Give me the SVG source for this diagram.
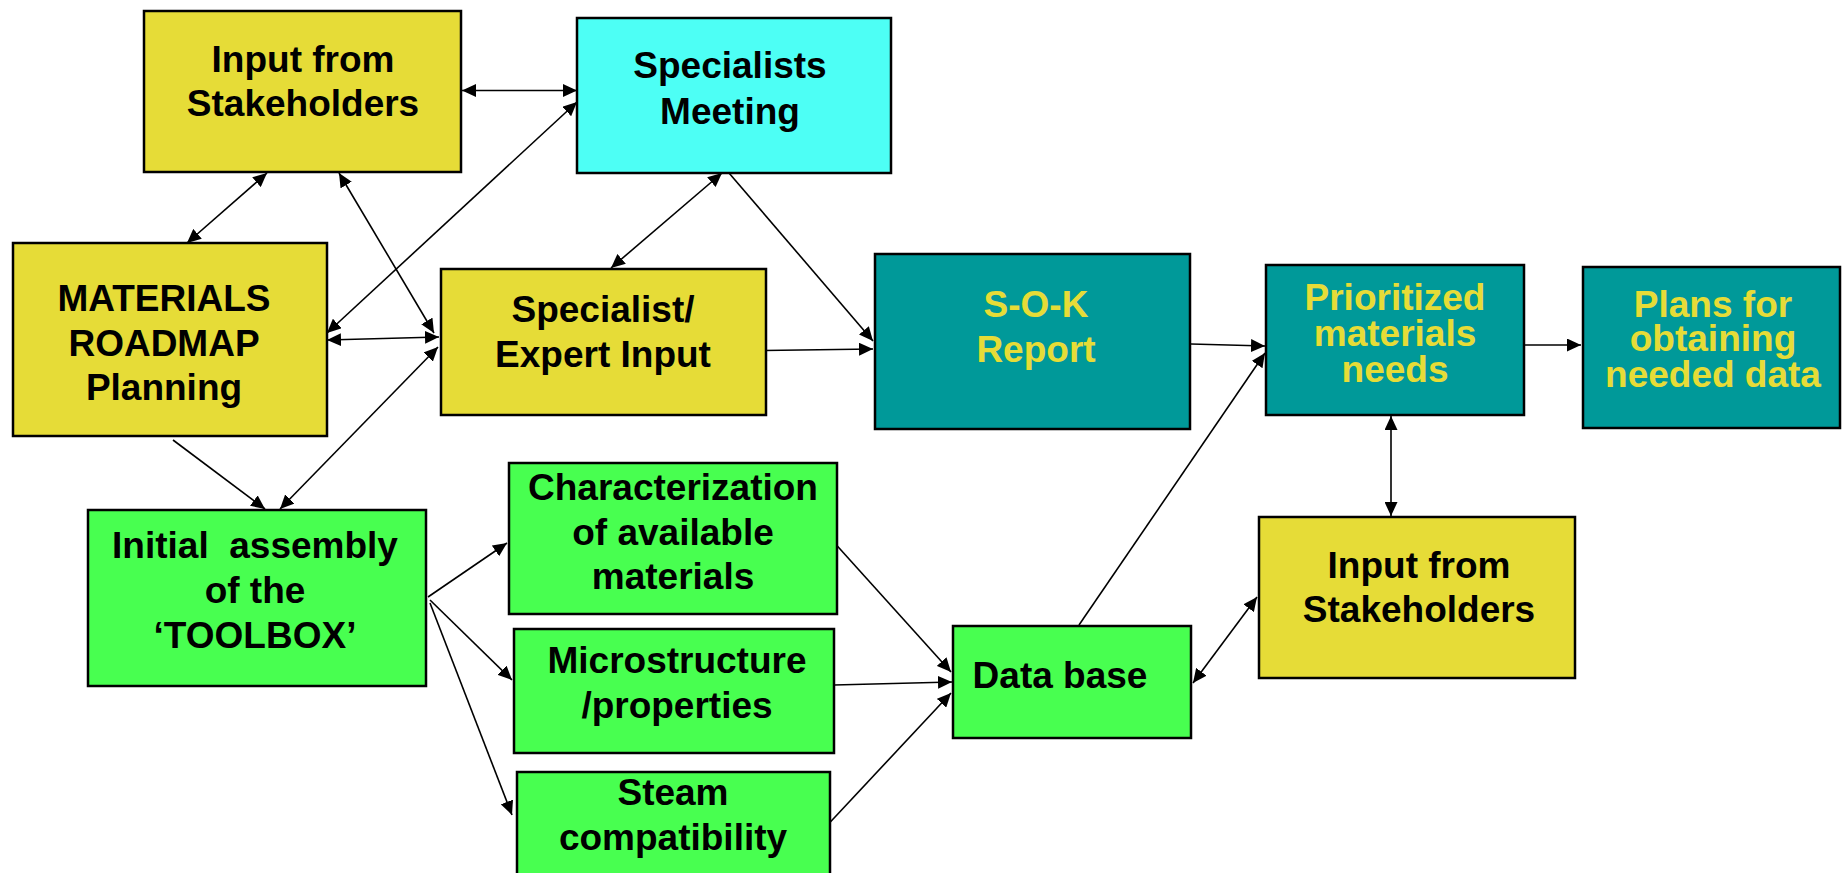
<svg xmlns="http://www.w3.org/2000/svg" width="1847" height="873" viewBox="0 0 1847 873">
<style>
.box{stroke:#000;stroke-width:2.5}
.y{fill:#E6DC37}
.c{fill:#4DFFF5}
.g{fill:#48FF50}
.t{fill:#009999}
text{font-family:"Liberation Sans",Arial,sans-serif;font-weight:bold;font-size:37px;text-anchor:middle;fill:#000}
text.yt{fill:#E6DC37}
.ln{stroke:#000;stroke-width:1.6;fill:none}
.s{marker-end:url(#ah)}
.d{marker-start:url(#ah);marker-end:url(#ah)}
</style>
<defs>
<marker id="ah" markerUnits="userSpaceOnUse" markerWidth="15" markerHeight="13" refX="14" refY="6.5" orient="auto-start-reverse" viewBox="0 0 15 13">
<path d="M0,0 L14,6.5 L0,13 z" fill="#000"/>
</marker>
</defs>
<g id="connectors">
<line class="ln d" x1="462" y1="90.5" x2="577" y2="90.5"/>
<line class="ln d" x1="267" y1="173" x2="187" y2="243"/>
<line class="ln d" x1="339" y1="173" x2="434" y2="333"/>
<line class="ln d" x1="577" y1="102" x2="327" y2="333"/>
<line class="ln d" x1="327" y1="340" x2="439" y2="337"/>
<line class="ln d" x1="722" y1="173" x2="611" y2="268"/>
<line class="ln s" x1="729" y1="173" x2="873" y2="341"/>
<line class="ln s" x1="764" y1="350.5" x2="873" y2="349"/>
<line class="ln d" x1="438" y1="347" x2="280" y2="509"/>
<line class="ln s" x1="173" y1="440" x2="265" y2="509"/>
<line class="ln s" x1="428" y1="597" x2="507" y2="543"/>
<line class="ln s" x1="430" y1="600" x2="512" y2="680"/>
<line class="ln s" x1="430" y1="603" x2="512" y2="815"/>
<line class="ln s" x1="831" y1="539" x2="951" y2="672"/>
<line class="ln s" x1="834" y1="685" x2="952" y2="682"/>
<line class="ln s" x1="821" y1="832" x2="951" y2="693"/>
<line class="ln s" x1="1079" y1="625" x2="1265" y2="353"/>
<line class="ln d" x1="1193" y1="683" x2="1257" y2="597"/>
<line class="ln s" x1="1191" y1="344" x2="1265" y2="346"/>
<line class="ln s" x1="1525" y1="345" x2="1581" y2="345"/>
<line class="ln d" x1="1391" y1="416" x2="1391" y2="516"/>
</g>
<g id="n_stake_top">
<rect class="box y" x="144" y="11" width="317" height="161"/>
<text x="303" y="72">Input from</text>
<text x="303" y="116">Stakeholders</text>
</g>
<g id="n_spec_meeting">
<rect class="box c" x="577" y="18" width="314" height="155"/>
<text x="730" y="78">Specialists</text>
<text x="730" y="124">Meeting</text>
</g>
<g id="n_roadmap">
<rect class="box y" x="13" y="243" width="314" height="193"/>
<text x="164" y="311">MATERIALS</text>
<text x="164" y="356">ROADMAP</text>
<text x="164" y="400">Planning</text>
</g>
<g id="n_expert">
<rect class="box y" x="441" y="269" width="325" height="146"/>
<text x="603" y="322">Specialist/</text>
<text x="603" y="367">Expert Input</text>
</g>
<g id="n_sok">
<rect class="box t" x="875" y="254" width="315" height="175"/>
<text class="yt" x="1036" y="317">S-O-K</text>
<text class="yt" x="1036" y="362">Report</text>
</g>
<g id="n_prior">
<rect class="box t" x="1266" y="265" width="258" height="150"/>
<text class="yt" x="1395" y="310">Prioritized</text>
<text class="yt" x="1395" y="346">materials</text>
<text class="yt" x="1395" y="382">needs</text>
</g>
<g id="n_plans">
<rect class="box t" x="1583" y="267" width="257" height="161"/>
<text class="yt" x="1713" y="317">Plans for</text>
<text class="yt" x="1713" y="351">obtaining</text>
<text class="yt" x="1713" y="387">needed data</text>
</g>
<g id="n_stake_right">
<rect class="box y" x="1259" y="517" width="316" height="161"/>
<text x="1419" y="578">Input from</text>
<text x="1419" y="622">Stakeholders</text>
</g>
<g id="n_database">
<rect class="box g" x="953" y="626" width="238" height="112"/>
<text x="1060" y="688">Data base</text>
</g>
<g id="n_toolbox">
<rect class="box g" x="88" y="510" width="338" height="176"/>
<text x="255" y="558" xml:space="preserve">Initial  assembly</text>
<text x="255" y="603">of the</text>
<text x="255" y="648">‘TOOLBOX’</text>
</g>
<g id="n_charac">
<rect class="box g" x="509" y="463" width="328" height="151"/>
<text x="673" y="500">Characterization</text>
<text x="673" y="545">of available</text>
<text x="673" y="589">materials</text>
</g>
<g id="n_micro">
<rect class="box g" x="514" y="629" width="320" height="124"/>
<text x="677" y="673">Microstructure</text>
<text x="677" y="718">/properties</text>
</g>
<g id="n_steam">
<rect class="box g" x="517" y="772" width="313" height="120"/>
<text x="673" y="805">Steam</text>
<text x="673" y="850">compatibility</text>
</g>
</svg>
